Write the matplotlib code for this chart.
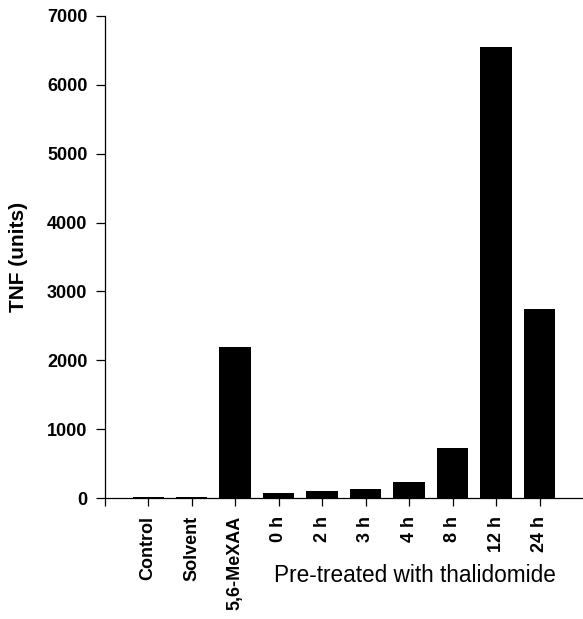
import matplotlib
matplotlib.use('Agg')
import matplotlib.pyplot as plt

plt.rcParams['font.family'] = ['Liberation Sans', 'DejaVu Sans']

# data
categories = ['Control', 'Solvent', '5,6-MeXAA', '0 h', '2 h', '3 h', '4 h', '8 h', '12 h', '24 h']
tnf_units = [20, 20, 2190, 80, 100, 140, 235, 730, 6545, 2740]
y_ticks = [0, 1000, 2000, 3000, 4000, 5000, 6000, 7000]

positions = list(range(1, len(categories) + 1))

fig = plt.figure(figsize=(5.83, 6.19), dpi=100)
ax = fig.add_axes([0.1796, 0.195, 0.8204, 0.7796])

ax.bar(positions, tnf_units, width=0.72, color='black', zorder=2)

ax.set_xlim(0, 11)
ax.set_ylim(0, 7000)

ax.spines['top'].set_visible(False)
ax.spines['right'].set_visible(False)
ax.spines['left'].set_linewidth(0.9)
ax.spines['bottom'].set_linewidth(0.9)

ax.set_yticks(y_ticks)
ax.set_yticklabels([str(v) for v in y_ticks], fontsize=13, fontweight='bold')
ax.tick_params(axis='y', direction='out', length=6.5, width=0.9, pad=6)

ax.set_xticks([0] + positions)
ax.set_xticklabels([''] + categories, rotation=90, fontsize=13, fontweight='bold')
ax.tick_params(axis='x', direction='out', length=6, width=0.9, pad=6.5)

ax.set_ylabel('TNF (units)', fontsize=15, fontweight='bold', labelpad=14)
fig.text(415 / 583, 1 - 576 / 619, 'Pre-treated with thalidomide', fontsize=16.3,
         ha='center', va='center')

fig.savefig('out.png', dpi=100)
